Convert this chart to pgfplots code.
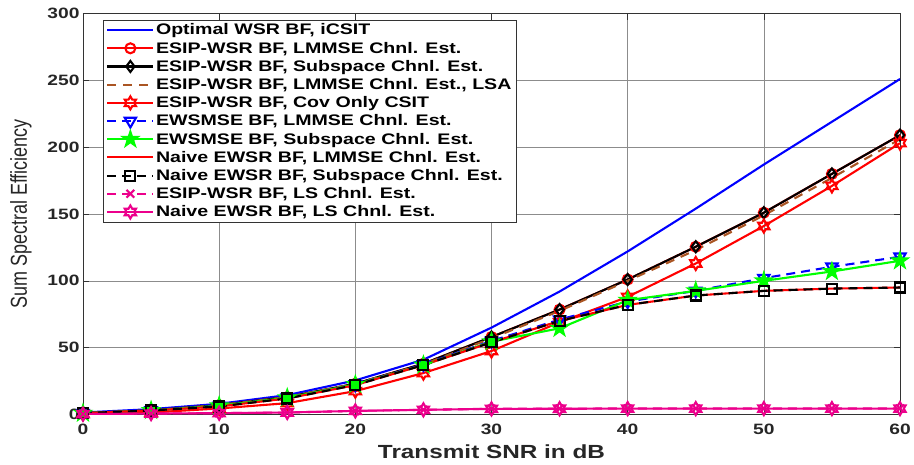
\documentclass[border=0pt]{standalone}
\usepackage{fontspec}
\setmainfont{Liberation Sans}
\newfontfamily\widefont{Liberation Sans}[FakeStretch=1.28]
\usepackage{graphicx}
\usepackage{pgfplots}
\pgfplotsset{compat=1.18}
\usetikzlibrary{plotmarks}

\definecolor{lsabrown}{RGB}{170,85,35}

% matlab style star marks
\pgfdeclareplotmark{hexagram}{%
  \pgfpathmoveto{\pgfpointpolar{90}{\pgfplotmarksize}}%
  \pgfpathlineto{\pgfpointpolar{120}{0.577\pgfplotmarksize}}%
  \pgfpathlineto{\pgfpointpolar{150}{\pgfplotmarksize}}%
  \pgfpathlineto{\pgfpointpolar{180}{0.577\pgfplotmarksize}}%
  \pgfpathlineto{\pgfpointpolar{210}{\pgfplotmarksize}}%
  \pgfpathlineto{\pgfpointpolar{240}{0.577\pgfplotmarksize}}%
  \pgfpathlineto{\pgfpointpolar{270}{\pgfplotmarksize}}%
  \pgfpathlineto{\pgfpointpolar{300}{0.577\pgfplotmarksize}}%
  \pgfpathlineto{\pgfpointpolar{330}{\pgfplotmarksize}}%
  \pgfpathlineto{\pgfpointpolar{0}{0.577\pgfplotmarksize}}%
  \pgfpathlineto{\pgfpointpolar{30}{\pgfplotmarksize}}%
  \pgfpathlineto{\pgfpointpolar{60}{0.577\pgfplotmarksize}}%
  \pgfpathclose
  \pgfusepathqstroke
}
\pgfdeclareplotmark{pentagram}{%
  \pgfpathmoveto{\pgfpointpolar{90}{\pgfplotmarksize}}%
  \pgfpathlineto{\pgfpointpolar{126}{0.382\pgfplotmarksize}}%
  \pgfpathlineto{\pgfpointpolar{162}{\pgfplotmarksize}}%
  \pgfpathlineto{\pgfpointpolar{198}{0.382\pgfplotmarksize}}%
  \pgfpathlineto{\pgfpointpolar{234}{\pgfplotmarksize}}%
  \pgfpathlineto{\pgfpointpolar{270}{0.382\pgfplotmarksize}}%
  \pgfpathlineto{\pgfpointpolar{306}{\pgfplotmarksize}}%
  \pgfpathlineto{\pgfpointpolar{342}{0.382\pgfplotmarksize}}%
  \pgfpathlineto{\pgfpointpolar{18}{\pgfplotmarksize}}%
  \pgfpathlineto{\pgfpointpolar{54}{0.382\pgfplotmarksize}}%
  \pgfpathclose
  \pgfusepathqfillstroke
}

\begin{document}
\begin{tikzpicture}
\path[use as bounding box] (-83pt,-49.5pt) rectangle (831pt,414.5pt);
\begin{axis}[
    at={(0pt,0pt)}, anchor=south west,
    width=817pt, height=401pt, scale only axis,
    xmin=0, xmax=60, ymin=0, ymax=300,
    xtick={0,10,...,60}, ytick={0,50,...,300},
    grid=major, grid style={black!45, line width=0.6pt},
    axis line style={black!80, line width=0.6pt},
    tick style={black!80, line width=0.6pt}, major tick length=6pt,
    tick align=inside,
    /pgf/number format/assume math mode=true,
    tick label style={font=\widefont\bfseries\fontsize{15}{15}\selectfont, text=black!85},
    xticklabel style={yshift=-6pt},
    xlabel={Transmit SNR in dB},
    every axis x label/.style={at={(axis description cs:0.5,-0.1085)}, anchor=base},
    xlabel style={font=\widefont\bfseries\fontsize{19}{19}\selectfont, text=black!85},
    ylabel={\scalebox{1}[1.28]{Sum Spectral Efficiency}},
    every axis y label/.style={at={(axis description cs:-0.0759,0.5)}, rotate=90, anchor=center},
    ylabel style={font=\fontsize{18}{18}\selectfont, text=black!85},
    every axis plot post/.append style={line width=2.1pt},
    legend image code/.code={\draw[mark repeat=2,mark phase=2,#1] plot coordinates {(0pt,0pt) (23pt,0pt) (46pt,0pt)};},
    legend style={at={(0.0245,0.984)}, anchor=north west, draw=black!80, line width=0.6pt,
        fill=white, font=\widefont\bfseries\fontsize{15.3}{15.3}\selectfont,
        inner xsep=3pt, inner ysep=2pt, row sep=2.4pt, cells={anchor=west},
        nodes={inner sep=1.6pt}},
]
\addplot[blue] coordinates {(0,1.5) (5,4) (10,8) (15,14.5) (20,25.5) (25,41) (30,65) (35,92) (40,122) (45,154) (50,187) (55,219) (60,251)};
\addlegendentry{Optimal WSR BF, iCSIT}
\addplot[red, mark=o, mark size=5pt] coordinates {(0,1) (5,3) (10,7) (15,13) (20,23) (25,38) (30,58) (35,78.5) (40,101) (45,125.5) (50,151) (55,180) (60,209)};
\addlegendentry{ESIP-WSR BF, LMMSE Chnl. Est.}
\addplot[black, mark=diamond, mark size=5.5pt] coordinates {(0,1) (5,3) (10,7) (15,13) (20,23) (25,38) (30,58) (35,78.5) (40,101) (45,125.5) (50,151) (55,180) (60,209)};
\addlegendentry{ESIP-WSR BF, Subspace Chnl. Est.}
\addplot[lsabrown, dash pattern=on 9pt off 7pt] coordinates {(0,1) (5,3) (10,7) (15,13) (20,23) (25,37.5) (30,57) (35,77.5) (40,100) (45,123) (50,149) (55,177) (60,206)};
\addlegendentry{ESIP-WSR BF, LMMSE Chnl. Est., LSA}
\addplot[red, mark=hexagram, mark size=6.5pt] coordinates {(0,0.5) (5,1.5) (10,4.5) (15,8.5) (20,17.5) (25,31) (30,47.5) (35,69) (40,88) (45,113) (50,141) (55,171) (60,203)};
\addlegendentry{ESIP-WSR BF, Cov Only CSIT}
\addplot[blue, dash pattern=on 9pt off 6pt, mark=triangle, mark size=6.5pt, mark options={solid, rotate=180}] coordinates {(0,1) (5,3) (10,6.5) (15,12.5) (20,22.5) (25,37.5) (30,55) (35,71) (40,84.5) (45,92.5) (50,102) (55,110.5) (60,118)};
\addlegendentry{EWSMSE BF, LMMSE Chnl. Est.}
\addplot[green, mark=pentagram, mark size=7.5pt, mark options={fill=green}] coordinates {(0,1) (5,3) (10,6.5) (15,12.5) (20,22.5) (25,37) (30,54.5) (35,64.5) (40,85.5) (45,92.5) (50,100) (55,107) (60,115)};
\addlegendentry{EWSMSE BF, Subspace Chnl. Est.}
\addplot[red] coordinates {(0,1) (5,3) (10,6) (15,12) (20,22) (25,37) (30,54) (35,70) (40,82) (45,89) (50,92.5) (55,94.2) (60,95)};
\addlegendentry{Naive EWSR BF, LMMSE Chnl. Est.}
\addplot[black, dash pattern=on 9pt off 6pt, mark=square, mark size=5pt, mark options={solid}] coordinates {(0,1) (5,3) (10,6) (15,12) (20,22) (25,37) (30,54) (35,70) (40,82) (45,89) (50,92.5) (55,94.2) (60,95)};
\addlegendentry{Naive EWSR BF, Subspace Chnl. Est.}
\addplot[magenta, dash pattern=on 9pt off 6pt, mark=x, mark size=5.5pt, mark options={solid}] coordinates {(0,0.3) (5,0.7) (10,1) (15,1.5) (20,2.7) (25,3.5) (30,4.3) (35,4.4) (40,4.5) (45,4.5) (50,4.5) (55,4.5) (60,4.5)};
\addlegendentry{ESIP-WSR BF, LS Chnl. Est.}
\addplot[magenta, mark=hexagram, mark size=6.5pt] coordinates {(0,0.3) (5,0.7) (10,1) (15,1.5) (20,2.7) (25,3.5) (30,4.2) (35,4.3) (40,4.4) (45,4.4) (50,4.4) (55,4.4) (60,4.4)};
\addlegendentry{Naive EWSR BF, LS Chnl. Est.}
\end{axis}
\end{tikzpicture}
\end{document}
